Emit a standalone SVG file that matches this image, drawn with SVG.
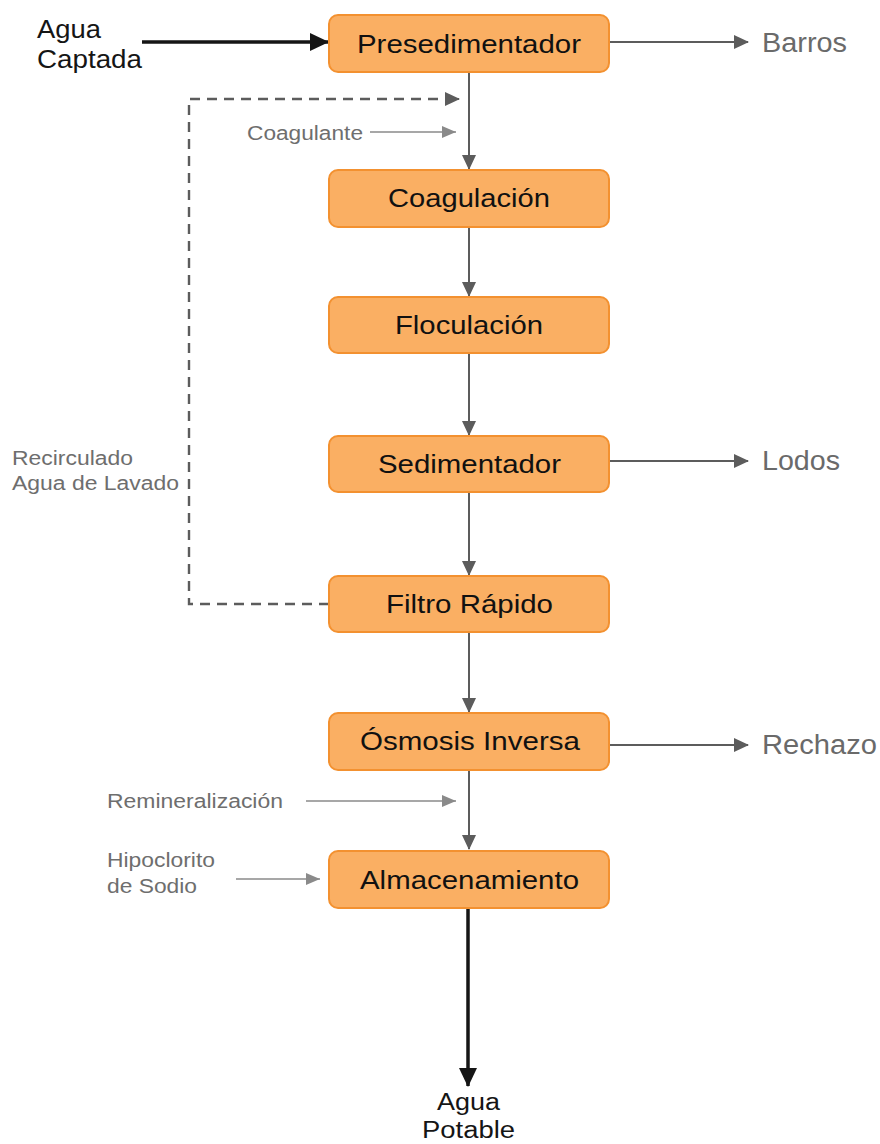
<svg xmlns="http://www.w3.org/2000/svg" width="880" height="1144" viewBox="0 0 880 1144">
<style>
.box{fill:#FAAF63;stroke:#F39130;stroke-width:2}
.bt{font-family:"Liberation Sans",Arial,sans-serif;font-size:25px;fill:#111}
.side{font-family:"Liberation Sans",Arial,sans-serif;font-size:27px;fill:#6a6a6a}
.small{font-family:"Liberation Sans",Arial,sans-serif;font-size:20px;fill:#6e6e6e}
.io{font-family:"Liberation Sans",Arial,sans-serif;font-size:26px;fill:#151515}
.io2{font-family:"Liberation Sans",Arial,sans-serif;font-size:23px;fill:#151515}
.main{stroke:#5c5c5c;stroke-width:2;fill:none}
.lite{stroke:#8a8a8a;stroke-width:1.6;fill:none}
.dash{stroke:#5c5c5c;stroke-width:2.4;fill:none;stroke-dasharray:10 7}
.blk{stroke:#151515;stroke-width:3.5;fill:none}
</style>
<defs>
<marker id="ah" markerUnits="userSpaceOnUse" markerWidth="16" markerHeight="16" refX="14" refY="8" orient="auto"><path d="M0,1 L15,8 L0,15 Z" fill="#5c5c5c"/></marker>
<marker id="ahl" markerUnits="userSpaceOnUse" markerWidth="16" markerHeight="16" refX="14" refY="8" orient="auto"><path d="M0,2 L14,8 L0,14 Z" fill="#8a8a8a"/></marker>
<marker id="ahb" markerUnits="userSpaceOnUse" markerWidth="20" markerHeight="20" refX="18" refY="10" orient="auto"><path d="M0,1 L19,10 L0,19 Z" fill="#151515"/></marker>
</defs>
<g id="connectors">
<line class="blk" x1="142" y1="42" x2="328" y2="42" marker-end="url(#ahb)"/>
<line class="main" x1="610" y1="42" x2="748" y2="42" marker-end="url(#ah)"/>
<line class="main" x1="469" y1="73" x2="469" y2="169" marker-end="url(#ah)"/>
<polyline class="dash" points="329,604 189,604 189,99 447,99"/>
<line class="main" x1="445" y1="99" x2="459" y2="99" marker-end="url(#ah)"/>
<line class="lite" x1="370" y1="132" x2="456" y2="132" marker-end="url(#ahl)"/>
<line class="main" x1="469" y1="228" x2="469" y2="296" marker-end="url(#ah)"/>
<line class="main" x1="469" y1="354" x2="469" y2="435" marker-end="url(#ah)"/>
<line class="main" x1="610" y1="461" x2="748" y2="461" marker-end="url(#ah)"/>
<line class="main" x1="469" y1="493" x2="469" y2="575" marker-end="url(#ah)"/>
<line class="main" x1="469" y1="633" x2="469" y2="712" marker-end="url(#ah)"/>
<line class="main" x1="610" y1="745" x2="748" y2="745" marker-end="url(#ah)"/>
<line class="main" x1="469" y1="771" x2="469" y2="849" marker-end="url(#ah)"/>
<line class="lite" x1="306" y1="801" x2="456" y2="801" marker-end="url(#ahl)"/>
<line class="lite" x1="236" y1="879" x2="320" y2="879" marker-end="url(#ahl)"/>
<line class="blk" x1="468" y1="908" x2="468" y2="1086" marker-end="url(#ahb)"/>
</g>
<g id="agua-captada"><text class="io" x="37" y="38" textLength="64" lengthAdjust="spacingAndGlyphs">Agua</text><text class="io" x="37" y="68" textLength="105" lengthAdjust="spacingAndGlyphs">Captada</text></g>
<g id="presedimentador"><rect class="box" x="329" y="15" width="280" height="57" rx="9"/><text class="bt" x="357" y="53" textLength="224" lengthAdjust="spacingAndGlyphs">Presedimentador</text></g>
<g id="barros"><text class="side" x="762" y="52" textLength="85" lengthAdjust="spacingAndGlyphs">Barros</text></g>
<g id="coagulante"><text class="small" x="247" y="140" textLength="116" lengthAdjust="spacingAndGlyphs">Coagulante</text></g>
<g id="coagulacion"><rect class="box" x="329" y="170" width="280" height="57" rx="9"/><text class="bt" x="388" y="207" textLength="162" lengthAdjust="spacingAndGlyphs">Coagulación</text></g>
<g id="floculacion"><rect class="box" x="329" y="297" width="280" height="56" rx="9"/><text class="bt" x="395" y="334" textLength="148" lengthAdjust="spacingAndGlyphs">Floculación</text></g>
<g id="sedimentador"><rect class="box" x="329" y="436" width="280" height="56" rx="9"/><text class="bt" x="378" y="473" textLength="183" lengthAdjust="spacingAndGlyphs">Sedimentador</text></g>
<g id="lodos"><text class="side" x="762" y="470" textLength="78" lengthAdjust="spacingAndGlyphs">Lodos</text></g>
<g id="recirculado"><text class="small" x="12" y="465" textLength="121" lengthAdjust="spacingAndGlyphs">Recirculado</text><text class="small" x="12" y="490" textLength="167" lengthAdjust="spacingAndGlyphs">Agua de Lavado</text></g>
<g id="filtro-rapido"><rect class="box" x="329" y="576" width="280" height="56" rx="9"/><text class="bt" x="386" y="613" textLength="167" lengthAdjust="spacingAndGlyphs">Filtro Rápido</text></g>
<g id="osmosis-inversa"><rect class="box" x="329" y="713" width="280" height="57" rx="9"/><text class="bt" x="360" y="750" textLength="220" lengthAdjust="spacingAndGlyphs">Ósmosis Inversa</text></g>
<g id="rechazo"><text class="side" x="762" y="754" textLength="115" lengthAdjust="spacingAndGlyphs">Rechazo</text></g>
<g id="remineralizacion"><text class="small" x="107" y="808" textLength="176" lengthAdjust="spacingAndGlyphs">Remineralización</text></g>
<g id="hipoclorito"><text class="small" x="107" y="867" textLength="108" lengthAdjust="spacingAndGlyphs">Hipoclorito</text><text class="small" x="107" y="893" textLength="90" lengthAdjust="spacingAndGlyphs">de Sodio</text></g>
<g id="almacenamiento"><rect class="box" x="329" y="851" width="280" height="57" rx="9"/><text class="bt" x="360" y="889" textLength="219" lengthAdjust="spacingAndGlyphs">Almacenamiento</text></g>
<g id="agua-potable"><text class="io2" x="437" y="1110" textLength="63" lengthAdjust="spacingAndGlyphs">Agua</text><text class="io2" x="422" y="1138" textLength="93" lengthAdjust="spacingAndGlyphs">Potable</text></g>
</svg>
